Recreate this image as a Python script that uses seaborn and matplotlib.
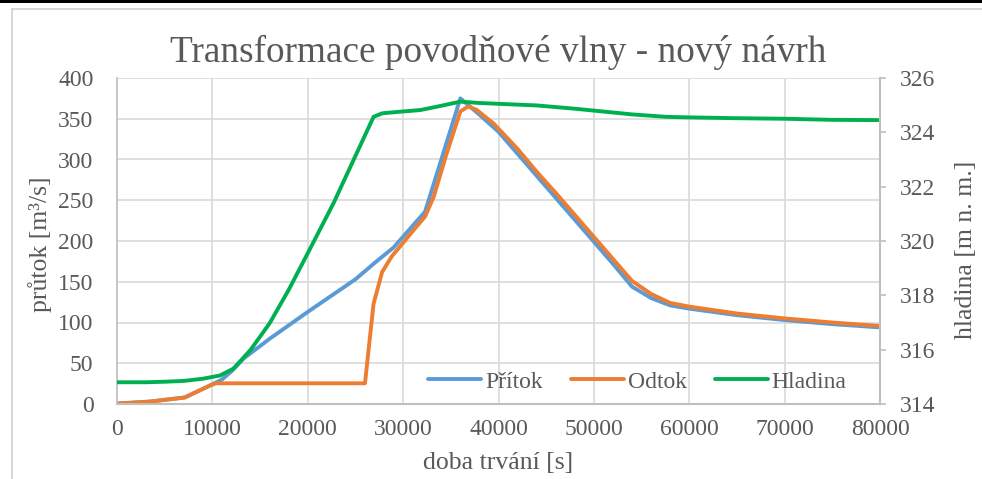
import matplotlib
matplotlib.use("Agg")
import matplotlib.pyplot as plt
import seaborn as sns
from matplotlib.patches import Rectangle
from matplotlib.lines import Line2D

# ---------------- data ----------------
title = "Transformace povodňové vlny - nový návrh"
x_label = "doba trvání [s]"
y_label_left = "průtok [m³/s]"
y_label_right = "hladina [m n. m.]"
series_names = ["Přítok", "Odtok", "Hladina"]

t_pritok = [0, 3500, 7100, 9800, 11000, 12000, 13300, 16000, 20000, 25000, 27000,
            29000, 32300, 36000, 38000, 40000, 42000, 44000, 46000, 48000, 50000,
            52000, 54000, 56000, 58000, 60000, 65000, 70000, 75000, 80000]
pritok = [0.5, 3, 8, 23, 30, 40, 56, 80, 113, 153, 173,
          192, 236, 375, 355, 334, 307, 280, 253, 226, 199,
          172, 144, 130, 121, 117, 109, 103, 98, 94]

t_odtok = [0, 3500, 7100, 9800, 10400, 26000, 26900, 27800, 28800, 29800, 31000,
           32300, 33200, 34500, 36000, 36800, 37700, 39500, 42000, 44000, 46000,
           48000, 50000, 52000, 54000, 56000, 58000, 60000, 65000, 70000, 75000, 80000]
odtok = [0.5, 3, 8, 23, 25.4, 25.4, 123, 162, 181, 195, 212,
         230, 254, 305, 359, 365, 361, 344, 313, 285, 259,
         232, 205, 178, 151, 135, 124, 119.5, 111, 105, 100, 95.7]

t_hladina = [0, 3000, 5000, 7000, 9000, 10800, 12200, 14000, 16000, 18000, 20000,
             22700, 24800, 26900, 27800, 29700, 31800, 33900, 36000, 38000, 40000,
             42000, 44000, 46000, 48000, 50000, 54000, 57600, 60000, 65000, 70000,
             75000, 80000]
hladina = [314.8, 314.8, 314.82, 314.85, 314.93, 315.05, 315.3, 315.99, 316.97, 318.2, 319.55,
           321.39, 322.98, 324.57, 324.70, 324.76, 324.82, 324.97, 325.13, 325.08, 325.05,
           325.02, 324.99, 324.93, 324.87, 324.80, 324.66, 324.57, 324.55, 324.52, 324.50,
           324.46, 324.45]

x_ticks = [0, 10000, 20000, 30000, 40000, 50000, 60000, 70000, 80000]
y_ticks_left = [0, 50, 100, 150, 200, 250, 300, 350, 400]
y_ticks_right = [314, 316, 318, 320, 322, 324, 326]

colors = ["#5B9BD5", "#ED7D31", "#00B050"]
text_color = "#595959"
grid_color = "#D9D9D9"
axis_color = "#BFBFBF"

# ---------------- style ----------------
sns.set_style("white")
plt.rcParams['font.family'] = ['Liberation Serif', 'DejaVu Serif']

W, H = 982, 479
fig = plt.figure(figsize=(W / 100, H / 100), dpi=100)
fig.patch.set_facecolor("white")

# outer decorations (black band on top, light gray frame)
fig.add_artist(Rectangle((0, 1 - 3 / H), 1, 3 / H, transform=fig.transFigure,
                         facecolor="black", edgecolor="none"))
fig.add_artist(Line2D([12 / W, 1], [1 - 8.5 / H, 1 - 8.5 / H], transform=fig.transFigure,
                      color="#D0D0D0", lw=1.2))
fig.add_artist(Line2D([12 / W, 12 / W], [0, 1 - 8.5 / H], transform=fig.transFigure,
                      color="#D0D0D0", lw=1.2))

left, right, top, bottom = 117, 880, 78, 404
ax = fig.add_axes([left / W, 1 - bottom / H, (right - left) / W, (bottom - top) / H])
ax2 = ax.twinx()

lw = 2.8
sns.lineplot(x=t_pritok, y=pritok, ax=ax, color=colors[0], linewidth=lw,
             estimator=None, sort=False, legend=False)
sns.lineplot(x=t_odtok, y=odtok, ax=ax, color=colors[1], linewidth=lw,
             estimator=None, sort=False, legend=False)
sns.lineplot(x=t_hladina, y=hladina, ax=ax2, color=colors[2], linewidth=lw,
             estimator=None, sort=False, legend=False)

ax.set_xlim(0, 80000)
ax.set_ylim(0, 400)
ax2.set_ylim(314, 326)
ax.set_xticks(x_ticks)
ax.set_xticklabels([str(v) for v in x_ticks])
ax.set_yticks(y_ticks_left)
ax.set_yticklabels([str(v) for v in y_ticks_left])
ax2.set_yticks(y_ticks_right)
ax2.set_yticklabels([str(v) for v in y_ticks_right])

ax.grid(True, color=grid_color, linewidth=1.2)
ax.set_axisbelow(True)
ax2.grid(False)

for a in (ax, ax2):
    for s in a.spines.values():
        s.set_visible(False)
ax.spines["left"].set_visible(True)
ax.spines["left"].set_color(axis_color)
ax.spines["left"].set_linewidth(1.2)
ax.spines["bottom"].set_visible(True)
ax.spines["bottom"].set_color(axis_color)
ax.spines["bottom"].set_linewidth(1.5)
ax2.spines["right"].set_visible(True)
ax2.spines["right"].set_color(axis_color)
ax2.spines["right"].set_linewidth(1.5)

ax.tick_params(axis="y", length=0, pad=17, labelsize=17, labelcolor=text_color)
ax.tick_params(axis="x", length=0, pad=11, labelsize=17, labelcolor=text_color)
ax2.tick_params(axis="y", length=4, width=1.2, color=axis_color, pad=10,
                labelsize=17, labelcolor=text_color)
ax.set_xlabel("")
ax.set_ylabel("")
ax2.set_ylabel("")

fig.text(498 / W, 1 - 52 / H, title, ha="center", va="center", fontsize=26.8, color=text_color)
fig.text(498 / W, 1 - 463 / H, x_label, ha="center", va="center", fontsize=18.5, color=text_color)
fig.text(40 / W, 1 - 244 / H, y_label_left, ha="center", va="center", rotation=90,
         fontsize=18.5, color=text_color)
fig.text(966 / W, 1 - 250 / H, y_label_right, ha="center", va="center", rotation=90,
         fontsize=18.5, color=text_color)

handles = [Line2D([0], [0], color=c, lw=lw) for c in colors]
leg = ax2.legend(handles, series_names, loc="center", bbox_to_anchor=(0.682, 0.068),
                 ncol=3, frameon=False, fontsize=17, handlelength=2.25,
                 handletextpad=0.15, columnspacing=1.2, borderpad=0)
for txt in leg.get_texts():
    txt.set_color(text_color)

fig.savefig("out.png", dpi=100, facecolor="white")
